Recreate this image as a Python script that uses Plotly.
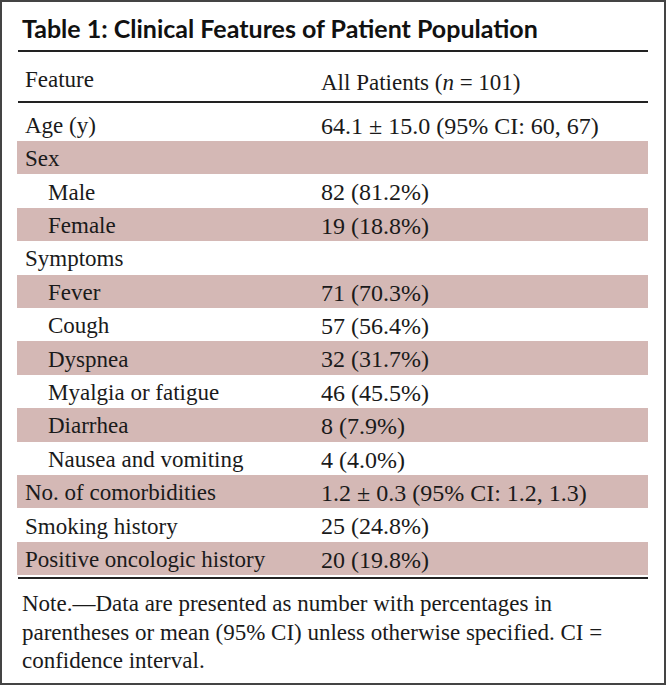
import plotly.graph_objects as go

W, H = 666, 685

title_text = "Table 1: Clinical Features of Patient Population"
header_labels = ["Feature", "All Patients (<i>n</i> = 101)"]

features = [
    "Age (y)", "Sex", "Male", "Female", "Symptoms", "Fever", "Cough",
    "Dyspnea", "Myalgia or fatigue", "Diarrhea", "Nausea and vomiting",
    "No. of comorbidities", "Smoking history", "Positive oncologic history",
]
indent_level = [0, 0, 1, 1, 0, 1, 1, 1, 1, 1, 1, 0, 0, 0]
values = [
    "64.1 ± 15.0 (95% CI: 60, 67)", "", "82 (81.2%)", "19 (18.8%)", "",
    "71 (70.3%)", "57 (56.4%)", "32 (31.7%)", "46 (45.5%)", "8 (7.9%)",
    "4 (4.0%)", "1.2 ± 0.3 (95% CI: 1.2, 1.3)", "25 (24.8%)", "20 (19.8%)",
]
note_lines = [
    "Note.—Data are presented as number with percentages in",
    "parentheses or mean (95% CI) unless otherwise specified. CI =",
    "confidence interval.",
]

BAND = "#D4B8B5"
TEXT = "#1a1a1a"
SERIF = "Liberation Serif"
FS = 23
FS_VAL = 24

def px(x):
    return x / W

def py(y):
    return 1 - y / H

labels = [("\u00a0" * 4 * lvl) + f for f, lvl in zip(features, indent_level)]
fills = ["white" if i % 2 == 0 else BAND for i in range(len(features))]

table_left, table_right = 17, 648
table_top, table_bottom = 62, 578
col1_w = 296

fig = go.Figure(go.Table(
    domain=dict(x=[px(table_left), px(table_right)], y=[py(table_bottom), py(table_top)]),
    columnwidth=[col1_w, (table_right - table_left) - col1_w],
    header=dict(
        values=header_labels,
        fill_color="white",
        line=dict(width=0, color="white"),
        align="left",
        font=dict(family=SERIF, size=FS, color=TEXT),
        height=45.5,
    ),
    cells=dict(
        values=[labels, values],
        fill_color=[fills, fills],
        line=dict(width=0, color="white"),
        align="left",
        font=dict(family=SERIF, size=[FS, FS_VAL], color=TEXT),
        height=33.4,
    ),
))

# rules
for y in (51, 102, 578):
    fig.add_shape(type="line", xref="paper", yref="paper",
                  x0=px(18), x1=px(648), y0=py(y), y1=py(y),
                  line=dict(color="#222222", width=2))

# outer frame
fig.add_shape(type="rect", xref="paper", yref="paper",
              x0=px(1), x1=px(665), y0=py(684), y1=py(1),
              line=dict(color="#444444", width=2))

fig.add_annotation(text=f"<b>{title_text}</b>", xref="paper", yref="paper",
                   x=px(20), y=py(27.5), xanchor="left", yanchor="middle",
                   showarrow=False,
                   font=dict(family="Lato", size=25, color="#111111"))

for i, line in enumerate(note_lines):
    fig.add_annotation(text=line, xref="paper", yref="paper",
                       x=px(20), y=py(589 + 28.5 * i), xanchor="left", yanchor="top",
                       align="left", showarrow=False,
                       font=dict(family=SERIF, size=FS, color=TEXT))

fig.update_layout(
    width=W, height=H,
    margin=dict(l=0, r=0, t=0, b=0),
    paper_bgcolor="white", plot_bgcolor="white",
)

fig.write_html("out.html",
               config={"displayModeBar": False},
               post_script="document.body.style.margin='0';document.body.style.padding='0';")
